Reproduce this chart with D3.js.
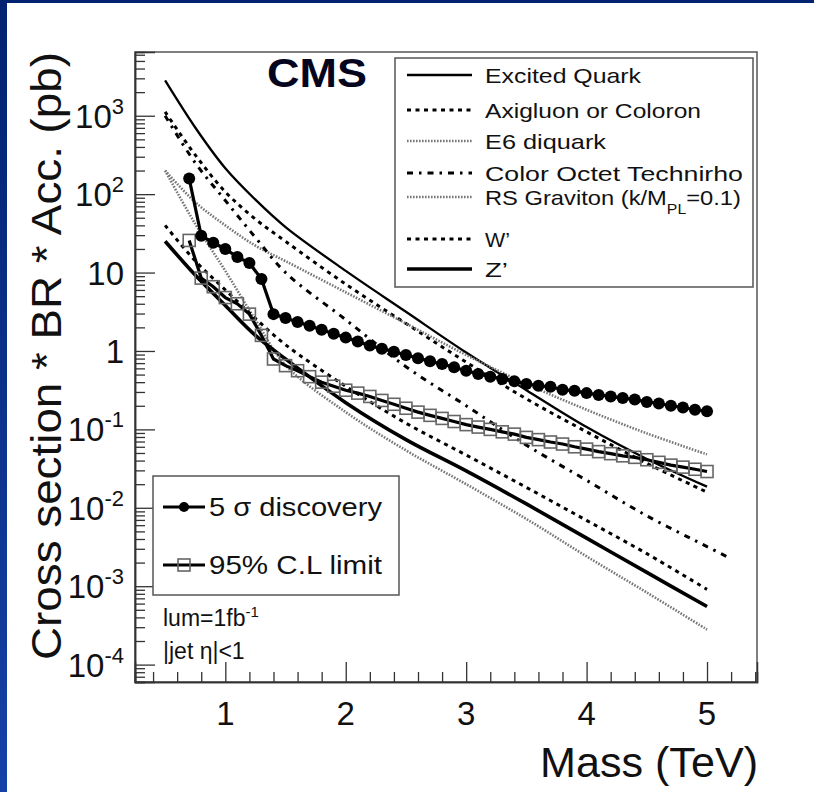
<!DOCTYPE html>
<html lang="en">
<head>
<meta charset="UTF-8">
<script src="https://cdn.jsdelivr.net/npm/d3@7"></script>
<title>Dijet resonance sensitivity</title>
<style>
    body { margin: 0; background: #fff; }
    svg { display: block; font-family: "Liberation Sans", Arial, Helvetica, sans-serif; }
</style>
</head>
<body>
<script>
    // model curves, mass in TeV, cross section in pb
    let massModel = [0.5, 0.75, 1.0, 1.25, 1.5, 2.0, 2.5, 3.0, 3.5, 4.0, 4.5, 5.0];
    let massRho = [0.5, 0.75, 1.0, 1.25, 1.5, 2.0, 2.5, 3.0, 3.5, 4.0, 4.5, 5.0, 5.2];
    let excitedQuark = [2820, 708, 214, 85, 38, 10.5, 3.16, 0.955, 0.316, 0.107, 0.042, 0.0186];
    let axigluon = [1120, 316, 107, 48, 25, 7.1, 2.24, 0.72, 0.245, 0.093, 0.037, 0.0158];
    let e6Diquark = [200, 79, 40, 22, 14, 5.6, 2.24, 0.89, 0.38, 0.178, 0.089, 0.048];
    let technirho = [1000, 251, 83, 28, 10, 2.5, 0.63, 0.2, 0.063, 0.0224, 0.0079, 0.0032, 0.00224];
    let rsGraviton = [200, 41.7, 10.5, 2.5, 0.66, 0.166, 0.054, 0.02, 0.0072, 0.0024, 0.00083, 0.00028];
    let wPrime = [40, 14.1, 6.0, 2.6, 1.2, 0.355, 0.12, 0.047, 0.0182, 0.0069, 0.0026, 0.00091];
    let zPrime = [25.1, 9.3, 3.8, 1.58, 0.79, 0.219, 0.074, 0.0295, 0.0112, 0.0041, 0.0015, 0.00055];

    // sensitivity scan
    let massScan = [0.7, 0.8, 0.9, 1.0, 1.1, 1.2, 1.3, 1.4, 1.5, 1.6, 1.7, 1.8, 1.9, 2.0, 2.1,
        2.2, 2.3, 2.4, 2.5, 2.6, 2.7, 2.8, 2.9, 3.0, 3.1, 3.2, 3.3, 3.4, 3.5, 3.6, 3.7, 3.8,
        3.9, 4.0, 4.1, 4.2, 4.3, 4.4, 4.5, 4.6, 4.7, 4.8, 4.9, 5.0];
    let discovery5sigma = [158, 29.5, 24, 20, 15.8, 13.2, 8.3, 2.95, 2.63, 2.34, 2.09, 1.86, 1.66, 1.48, 1.32,
        1.17, 1.07, 0.98, 0.89, 0.81, 0.74, 0.68, 0.62, 0.56, 0.51, 0.47, 0.44, 0.41, 0.38, 0.36, 0.35, 0.32,
        0.31, 0.29, 0.275, 0.263, 0.251, 0.24, 0.224, 0.214, 0.2, 0.19, 0.178, 0.17];
    let limit95 = [25.7, 8.5, 6.6, 4.8, 4.0, 2.95, 1.58, 0.79, 0.65, 0.56, 0.47, 0.40, 0.355, 0.316, 0.29,
        0.263, 0.234, 0.209, 0.186, 0.166, 0.151, 0.138, 0.126, 0.115, 0.107, 0.1, 0.093, 0.087, 0.079, 0.074, 0.069, 0.065,
        0.060, 0.056, 0.052, 0.049, 0.046, 0.044, 0.041, 0.038, 0.035, 0.033, 0.031, 0.029];

    let xTickValues = [1, 2, 3, 4, 5];
    let yTickValues = [1e3, 1e2, 10, 1, 1e-1, 1e-2, 1e-3, 1e-4];
    let yTickBase = ["10", "10", "10", "1", "10", "10", "10", "10"];
    let yTickExp = ["3", "2", "", "", "-1", "-2", "-3", "-4"];

    let modelNames = ["Excited Quark", "Axigluon or Coloron", "E6 diquark", "Color Octet Technirho",
        "RS Graviton (k/M", "W\u2019", "Z\u2019"];

    let width = 814, height = 792;
    let frame = {left: 135, right: 757, top: 52, bottom: 682};

    let svg = d3.select("body").append("svg")
        .attr("width", width)
        .attr("height", height);

    // blue slide border
    let defs = svg.append("defs");
    let grad = defs.append("linearGradient")
        .attr("id", "blueGrad").attr("x1", 0).attr("y1", 0).attr("x2", 0).attr("y2", 1);
    grad.append("stop").attr("offset", "0%").attr("stop-color", "#002270");
    grad.append("stop").attr("offset", "100%").attr("stop-color", "#1641a6");
    svg.append("rect").attr("x", 0).attr("y", 0).attr("width", 7).attr("height", height).attr("fill", "url(#blueGrad)");
    svg.append("rect").attr("x", 0).attr("y", 0).attr("width", width).attr("height", 3).attr("fill", "#002270");

    defs.append("clipPath").attr("id", "plotClip")
        .append("rect")
        .attr("x", frame.left).attr("y", frame.top)
        .attr("width", frame.right - frame.left).attr("height", frame.bottom - frame.top);

    let x = d3.scaleLinear().domain([0.25, 5.415]).range([frame.left, frame.right]);
    let y = d3.scaleLog().domain([6.0e-5, 6500]).range([frame.bottom, frame.top]);

    // frame
    svg.append("rect")
        .attr("x", frame.left).attr("y", frame.top)
        .attr("width", frame.right - frame.left).attr("height", frame.bottom - frame.top)
        .attr("fill", "none").attr("stroke", "#555").attr("stroke-width", 1.5);

    // minor ticks
    let yMinor = [];
    for (let k = -5; k <= 3; k++) {
        for (let j = 2; j <= 9; j++) {
            let v = j * Math.pow(10, k);
            if (v > y.domain()[0] && v < y.domain()[1]) yMinor.push(v);
        }
    }
    let xMinor = d3.range(0.4, 5.41, 0.2).filter(v => Math.abs(v - Math.round(v)) > 0.01);

    let yAxisMinor = d3.axisRight(y).tickValues(yMinor).tickSize(10).tickFormat("");
    let yAxisMajor = d3.axisRight(y).tickValues(yTickValues).tickSize(20).tickFormat("");
    let xAxisMinor = d3.axisTop(x).tickValues(xMinor).tickSize(10).tickFormat("");
    let xAxisMajor = d3.axisTop(x).tickValues(xTickValues).tickSize(20).tickFormat("");

    [yAxisMinor, yAxisMajor].forEach(a => {
        let g = svg.append("g").attr("transform", "translate(" + frame.left + ",0)").call(a);
        g.select(".domain").attr("stroke", "#333").attr("stroke-width", 1.5);
        g.selectAll(".tick line").attr("stroke", "#333").attr("stroke-width", 1.3);
    });
    [xAxisMinor, xAxisMajor].forEach(a => {
        let g = svg.append("g").attr("transform", "translate(0," + frame.bottom + ")").call(a);
        g.select(".domain").attr("stroke", "#333").attr("stroke-width", 1.5);
        g.selectAll(".tick line").attr("stroke", "#333").attr("stroke-width", 1.3);
    });

    // y tick labels with superscripts
    yTickValues.forEach((v, i) => {
        let t = svg.append("text")
            .attr("x", 124)
            .attr("y", y(v) + 12)
            .attr("text-anchor", "end")
            .attr("font-size", 33)
            .attr("fill", "#111");
        t.append("tspan").text(yTickBase[i]);
        if (yTickExp[i] !== "") {
            t.append("tspan").attr("dy", -14).attr("font-size", 22).text(yTickExp[i]);
        }
    });

    // x tick labels
    svg.selectAll(".xlab")
        .data(xTickValues)
        .enter()
        .append("text")
        .attr("class", "xlab")
        .attr("x", d => x(d))
        .attr("y", 725)
        .attr("text-anchor", "middle")
        .attr("font-size", 33)
        .attr("fill", "#111")
        .text(d => d);

    // axis titles
    svg.append("text")
        .attr("transform", "translate(61,356) rotate(-90)")
        .attr("text-anchor", "middle")
        .attr("font-size", 42)
        .attr("textLength", 608)
        .attr("lengthAdjust", "spacingAndGlyphs")
        .attr("fill", "#111")
        .text("Cross section * BR * Acc. (pb)");

    svg.append("text")
        .attr("x", 540)
        .attr("y", 777)
        .attr("font-size", 42)
        .attr("textLength", 218)
        .attr("lengthAdjust", "spacingAndGlyphs")
        .attr("fill", "#111")
        .text("Mass (TeV)");

    // curve styles
    let solidThin = {stroke: "#000", width: 2.3, dash: null};
    let solidThick = {stroke: "#000", width: 3.6, dash: null};
    let dashed = {stroke: "#000", width: 3, dash: "4,4.5"};
    let dotted = {stroke: "#777", width: 2.6, dash: "1.6,1.4"};
    let dashDot = {stroke: "#000", width: 3, dash: "6,6,2.5,6"};

    let models = [
        {mass: massModel, xs: excitedQuark, style: solidThin},
        {mass: massModel, xs: axigluon, style: dashed},
        {mass: massModel, xs: e6Diquark, style: dotted},
        {mass: massRho, xs: technirho, style: dashDot},
        {mass: massModel, xs: rsGraviton, style: dotted},
        {mass: massModel, xs: wPrime, style: dashed},
        {mass: massModel, xs: zPrime, style: solidThick}
    ];

    let plot = svg.append("g").attr("clip-path", "url(#plotClip)");

    let smoothLine = d3.line()
        .x(d => x(d[0]))
        .y(d => y(d[1]))
        .curve(d3.curveCatmullRom.alpha(0.5));

    plot.selectAll(".model")
        .data(models)
        .enter()
        .append("path")
        .attr("class", "model")
        .attr("fill", "none")
        .attr("stroke", d => d.style.stroke)
        .attr("stroke-width", d => d.style.width)
        .attr("stroke-dasharray", d => d.style.dash)
        .attr("d", d => smoothLine(d.mass.map((m, i) => [m, d.xs[i]])));

    let scanLine = d3.line()
        .x(d => x(d[0]))
        .y(d => y(d[1]));

    let limitPts = massScan.map((m, i) => [m, limit95[i]]);
    let discPts = massScan.map((m, i) => [m, discovery5sigma[i]]);

    // 95% CL limit
    plot.append("path")
        .attr("fill", "none")
        .attr("stroke", "#000")
        .attr("stroke-width", 3.2)
        .attr("d", scanLine(limitPts));
    plot.selectAll(".sq")
        .data(limitPts)
        .enter()
        .append("rect")
        .attr("class", "sq")
        .attr("x", d => x(d[0]) - 6)
        .attr("y", d => y(d[1]) - 6)
        .attr("width", 12)
        .attr("height", 12)
        .attr("fill", "none")
        .attr("stroke", "#666")
        .attr("stroke-width", 1.6);

    // 5 sigma discovery
    plot.append("path")
        .attr("fill", "none")
        .attr("stroke", "#000")
        .attr("stroke-width", 3.2)
        .attr("d", scanLine(discPts));
    plot.selectAll(".dot")
        .data(discPts)
        .enter()
        .append("circle")
        .attr("class", "dot")
        .attr("cx", d => x(d[0]))
        .attr("cy", d => y(d[1]))
        .attr("r", 6)
        .attr("fill", "#000");

    // CMS label
    svg.append("text")
        .attr("x", 267)
        .attr("y", 87)
        .attr("font-size", 40)
        .attr("font-weight", "bold")
        .attr("textLength", 100)
        .attr("lengthAdjust", "spacingAndGlyphs")
        .attr("fill", "#05051e")
        .text("CMS");

    // model legend
    let legRowY = [75, 110, 141, 173, 197, 239, 269];
    let legTextLen = [156, 216, 121, 258, null, 25, 23];
    let leg = svg.append("g");
    leg.append("rect")
        .attr("x", 395).attr("y", 58)
        .attr("width", 358).attr("height", 229)
        .attr("fill", "#fff").attr("stroke", "#555").attr("stroke-width", 1.5);

    models.forEach((m, i) => {
        leg.append("line")
            .attr("x1", 407).attr("x2", 472)
            .attr("y1", legRowY[i]).attr("y2", legRowY[i])
            .attr("stroke", m.style.stroke)
            .attr("stroke-width", m.style.width)
            .attr("stroke-dasharray", m.style.dash);
        if (legTextLen[i]) {
            leg.append("text")
                .attr("x", 485)
                .attr("y", legRowY[i] + 8)
                .attr("font-size", 21)
                .attr("fill", "#111")
                .attr("textLength", legTextLen[i])
                .attr("lengthAdjust", "spacingAndGlyphs")
                .text(modelNames[i]);
        } else {
            let t = leg.append("text")
                .attr("transform", "translate(485," + (legRowY[i] + 8) + ") scale(1.13,1)")
                .attr("font-size", 21)
                .attr("fill", "#111");
            t.append("tspan").text(modelNames[i]);
            t.append("tspan").attr("dy", 9).attr("font-size", 14).text("PL");
            t.append("tspan").attr("dy", -9).text("=0.1)");
        }
    });

    // scan legend
    let leg2 = svg.append("g");
    leg2.append("rect")
        .attr("x", 153).attr("y", 476)
        .attr("width", 246).attr("height", 119)
        .attr("fill", "#fff").attr("stroke", "#555").attr("stroke-width", 1.5);
    leg2.append("line").attr("x1", 163).attr("x2", 205).attr("y1", 507).attr("y2", 507)
        .attr("stroke", "#000").attr("stroke-width", 3.2);
    leg2.append("circle").attr("cx", 184).attr("cy", 507).attr("r", 5).attr("fill", "#000");
    leg2.append("line").attr("x1", 163).attr("x2", 205).attr("y1", 565).attr("y2", 565)
        .attr("stroke", "#000").attr("stroke-width", 3.2);
    leg2.append("rect").attr("x", 178).attr("y", 559).attr("width", 12).attr("height", 12)
        .attr("fill", "none").attr("stroke", "#666").attr("stroke-width", 1.6);
    leg2.append("text").attr("x", 209).attr("y", 516).attr("font-size", 25)
        .attr("textLength", 173).attr("lengthAdjust", "spacingAndGlyphs").attr("fill", "#111")
        .text("5 \u03c3 discovery");
    leg2.append("text").attr("x", 209).attr("y", 574).attr("font-size", 25)
        .attr("textLength", 173).attr("lengthAdjust", "spacingAndGlyphs").attr("fill", "#111")
        .text("95% C.L limit");

    // luminosity and cut text
    let lum = svg.append("text").attr("x", 163).attr("y", 626).attr("font-size", 23).attr("fill", "#111");
    lum.append("tspan").text("lum=1fb");
    lum.append("tspan").attr("dy", -9).attr("font-size", 15).text("-1");
    svg.append("text").attr("x", 163).attr("y", 659).attr("font-size", 23).attr("fill", "#111")
        .text("|jet \u03b7|<1");
</script>
</body>
</html>
